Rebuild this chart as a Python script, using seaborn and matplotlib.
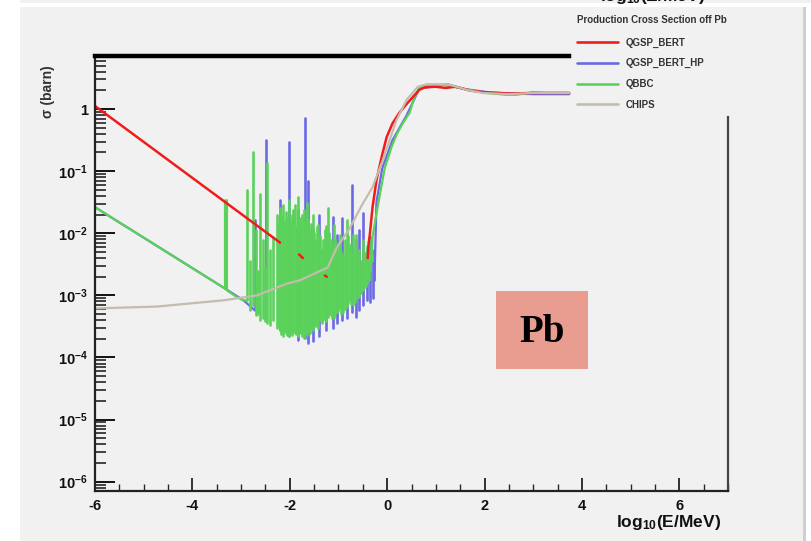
import numpy as np
import pandas as pd
import matplotlib.pyplot as plt
import seaborn as sns
from matplotlib.patches import Rectangle
from matplotlib.lines import Line2D
from matplotlib.ticker import LogLocator, MultipleLocator, FuncFormatter, NullFormatter

# values: x = log10(E/MeV), y = log10(sigma/barn)
# QGSP_BERT (red), split in pieces where it disappears under the others
red_x = [-6.0, -2.2, -1.81, -1.73, -1.28, -1.24, -0.40, -0.38, -0.36, -0.30, -0.22, -0.11, -0.01,
         0.11, 0.25, 0.42, 0.66, 0.77, 1.0, 1.2, 1.4, 1.7, 2.0, 2.5, 3.0, 3.74]
red_logy = [0.05, -2.15, -2.34, -2.40, -2.68, -2.70, -2.40, -2.16, -2.05, -1.58, -1.15, -0.76, -0.45,
            -0.23, -0.06, 0.10, 0.31, 0.35, 0.36, 0.34, 0.36, 0.30, 0.27, 0.25, 0.26, 0.26]
red_seg = [0, 0, 1, 1, 2, 2, 3, 3, 3, 3, 3, 3, 3, 3, 3, 3, 3, 3, 3, 3, 3, 3, 3, 3, 3, 3]

# QBBC (green): smooth low-energy part, spike, then noisy columns (top/bottom), then the rise
green_low_x = [-6.0, -3.37, -3.33, -3.33, -3.29, -3.29, -3.08, -2.95, -2.88]
green_low_logy = [-1.58, -2.87, -2.89, -1.47, -1.47, -2.92, -3.03, -3.08, -3.08]
green_col_x = [-2.88, -2.82, -2.76, -2.70, -2.65, -2.61, -2.55, -2.51, -2.47, -2.41, -2.34, -2.27,
               -2.23, -2.20, -2.17, -2.14, -2.11, -2.08, -2.05, -2.02, -1.99, -1.96, -1.93, -1.90,
               -1.87, -1.84, -1.80, -1.77, -1.74, -1.71, -1.68, -1.65, -1.62, -1.59, -1.56, -1.53,
               -1.50, -1.47, -1.44, -1.41, -1.37, -1.34, -1.31, -1.28, -1.25, -1.22, -1.19, -1.16,
               -1.13, -1.10, -1.07, -1.04, -1.00, -0.97, -0.94, -0.91, -0.87, -0.83, -0.80, -0.77,
               -0.74, -0.71, -0.67, -0.63, -0.60, -0.57, -0.53, -0.50, -0.47, -0.44, -0.41, -0.38,
               -0.35, -0.32]
green_col_top = [-1.31, -2.44, -0.69, -1.95, -2.60, -1.36, -2.11, -2.55, -0.87, -2.27, -2.06, -1.71,
                 -1.85, -1.60, -1.72, -1.55, -1.80, -1.66, -1.75, -1.47, -1.80, -1.71, -1.62, -1.55,
                 -1.90, -1.42, -1.75, -1.87, -1.70, -1.63, -1.82, -1.52, -1.78, -1.95, -1.85, -1.71,
                 -2.00, -2.11, -1.90, -1.87, -2.05, -2.27, -2.10, -1.95, -1.88, -1.60, -2.00, -2.11,
                 -2.20, -1.87, -2.10, -2.27, -2.15, -2.03, -2.30, -2.35, -2.10, -1.79, -2.05, -2.19,
                 -2.30, -2.03, -2.20, -2.03, -2.35, -2.27, -2.45, -2.11, -2.30, -2.35, -2.20, -2.06,
                 -2.40, -2.35]
green_col_bot = [-3.08, -3.24, -3.16, -3.32, -3.30, -3.40, -3.37, -3.42, -3.44, -3.48, -3.40, -3.53,
                 -3.50, -3.56, -3.62, -3.65, -3.58, -3.60, -3.64, -3.66, -3.60, -3.63, -3.58, -3.60,
                 -3.62, -3.66, -3.60, -3.56, -3.66, -3.69, -3.60, -3.63, -3.58, -3.60, -3.52, -3.56,
                 -3.50, -3.50, -3.46, -3.53, -3.40, -3.44, -3.40, -3.37, -3.42, -3.34, -3.30, -3.31,
                 -3.36, -3.37, -3.30, -3.27, -3.25, -3.21, -3.30, -3.27, -3.22, -3.18, -3.12, -3.08,
                 -3.14, -3.16, -3.10, -3.05, -3.00, -3.02, -2.96, -2.92, -2.88, -2.85, -2.80, -2.76,
                 -2.60, -2.44]
green_high_x = [-0.32, -0.30, -0.22, -0.16, -0.05, 0.09, 0.20, 0.32, 0.46, 0.56, 0.66, 0.91, 1.14,
                1.42, 1.63, 2.04, 2.45, 2.65, 2.98, 3.27, 3.74]
green_high_logy = [-2.44, -2.06, -1.68, -1.42, -0.95, -0.61, -0.40, -0.23, -0.06, 0.19, 0.34, 0.39,
                   0.39, 0.35, 0.32, 0.26, 0.23, 0.23, 0.27, 0.26, 0.26]

# QGSP_BERT_HP (blue)
blue_low_x = [-6.0, -3.37, -2.95, -2.72]
blue_low_logy = [-1.58, -2.87, -3.08, -3.24]
blue_col_x = [-2.72, -2.49, -2.20, -2.02, -1.84, -1.69, -1.63, -1.53, -1.39, -1.26, -1.12, -1.02,
              -0.93, -0.83, -0.73, -0.65, -0.57, -0.50, -0.42, -0.36, -0.30, -0.26]
blue_col_top = [-1.79, -0.50, -1.47, -0.53, -1.63, -0.15, -1.15, -1.95, -1.71, -2.11, -1.74, -2.03,
                 -1.76, -2.27, -1.23, -2.11, -1.95, -1.68, -2.27, -2.06, -2.35, -2.27]
blue_col_bot = [-3.24, -3.40, -3.56, -3.66, -3.72, -3.69, -3.76, -3.73, -3.66, -3.56, -3.53, -3.44,
                -3.40, -3.37, -3.27, -3.34, -3.24, -3.16, -3.08, -3.11, -3.05, -2.76]
blue_high_x = [-0.26, -0.22, -0.10, 0.11, 0.40, 0.66, 1.24, 1.60, 2.10, 2.60, 3.00, 3.74]
blue_high_logy = [-2.76, -1.50, -0.95, -0.50, -0.10, 0.33, 0.40, 0.32, 0.27, 0.25, 0.24, 0.24]

# CHIPS (grey)
gray_x = [-6.0, -4.73, -4.05, -3.37, -2.67, -2.06, -1.80, -1.22, -1.04, -0.77, -0.50, -0.30, -0.09,
          0.19, 0.40, 0.63, 0.81, 1.22, 1.38, 1.63, 1.96, 2.51, 2.98, 3.53, 3.74]
gray_logy = [-3.21, -3.18, -3.13, -3.08, -3.00, -2.81, -2.76, -2.55, -2.24, -1.92, -1.52, -1.26, -0.82,
             -0.18, 0.15, 0.36, 0.40, 0.40, 0.37, 0.31, 0.26, 0.24, 0.26, 0.26, 0.26]

labels = ['QGSP_BERT', 'QGSP_BERT_HP', 'QBBC', 'CHIPS']
colors = ['#f01c1c', '#6a6ae4', '#5ad25a', '#c4bcae']


def columns(xs, tops, bots):
    # one vertical stroke per column
    px, py, unit = [], [], []
    for i, (x, t, b) in enumerate(zip(xs, tops, bots)):
        px += [x, x]
        py += [t, b]
        unit += [i, i]
    return pd.DataFrame({'x': px, 'y': np.power(10.0, py), 'col': unit})


def curve(xs, logy):
    return pd.DataFrame({'x': xs, 'y': np.power(10.0, logy)})


red = pd.DataFrame({'x': red_x, 'y': np.power(10.0, red_logy), 'seg': red_seg})

sns.set_style('white')
plt.rcParams['font.family'] = ['Liberation Sans', 'DejaVu Sans']
plt.rcParams['font.weight'] = 'bold'
plt.rcParams['axes.unicode_minus'] = False
plt.rcParams['mathtext.fontset'] = 'custom'
plt.rcParams['mathtext.bf'] = 'Liberation Sans:bold'
plt.rcParams['mathtext.rm'] = 'Liberation Sans:bold'
plt.rcParams['mathtext.default'] = 'bf'

bg = '#f1f1f1'
fig = plt.figure(figsize=(8.11, 5.41), dpi=100, facecolor='white')
W, H = 811, 541
fig.add_artist(Rectangle((20 / W, 0), 783 / W, 1 - 7 / H, transform=fig.transFigure,
                         facecolor=bg, edgecolor='none', zorder=-5))
fig.add_artist(Rectangle((20 / W, 1 - 3 / H), 791 / W, 3 / H, transform=fig.transFigure,
                         facecolor=bg, edgecolor='none', zorder=-5))
fig.add_artist(Rectangle((803 / W, 0), 3 / W, 1 - 7 / H, transform=fig.transFigure,
                         facecolor='#cfcfcf', edgecolor='none', zorder=-5))

ax = fig.add_axes([95 / W, 1 - 491 / H, (728 - 95) / W, (491 - 56) / H])
ax.set_facecolor(bg)

kw = dict(x='x', y='y', sort=False, estimator=None, ax=ax, legend=False)
# blue first, green over it, then red and grey on top
sns.lineplot(data=curve(blue_low_x, blue_low_logy), color=colors[1], lw=1.6, **kw)
sns.lineplot(data=columns(blue_col_x, blue_col_top, blue_col_bot), units='col', color=colors[1],
             lw=1.9, **kw)
sns.lineplot(data=curve(blue_high_x, blue_high_logy), color=colors[1], lw=1.6, **kw)
sns.lineplot(data=curve(green_low_x, green_low_logy), color=colors[2], lw=1.6, **kw)
sns.lineplot(data=columns(green_col_x, green_col_top, green_col_bot), units='col', color=colors[2],
             lw=1.9, **kw)
sns.lineplot(data=curve(green_high_x, green_high_logy), color=colors[2], lw=1.6, **kw)
sns.lineplot(data=red, units='seg', color=colors[0], lw=1.8, **kw)
sns.lineplot(data=curve(gray_x, gray_logy), color=colors[3], lw=1.6, **kw)

ax.set_yscale('log')
ax.set_xlim(-6, 7)
ax.set_ylim(10 ** -6.15, 10 ** 0.855)
ax.set_xlabel('')
ax.set_ylabel('')

ax.xaxis.set_major_locator(MultipleLocator(2))
ax.xaxis.set_minor_locator(MultipleLocator(0.5))
ax.xaxis.set_major_formatter(FuncFormatter(lambda v, p: '%d' % round(v)))
ax.yaxis.set_major_locator(LogLocator(base=10, numticks=20))
ax.yaxis.set_minor_locator(LogLocator(base=10, subs=np.arange(2, 10), numticks=20))
ax.yaxis.set_minor_formatter(NullFormatter())
ax.yaxis.set_major_formatter(FuncFormatter(
    lambda v, p: '1' if abs(np.log10(v)) < 0.01 else r'$10^{%d}$' % round(np.log10(v))))

ax.tick_params(axis='y', which='major', direction='in', length=14.5, width=1.4, left=True,
               right=False, labelsize=10.5, pad=5, colors='#111111')
ax.tick_params(axis='y', which='minor', direction='in', length=8, width=1.2, left=True, right=False)
ax.tick_params(axis='x', which='major', direction='in', length=9.5, width=1.2, bottom=True,
               top=False, labelsize=10.5, pad=6, colors='#111111')
ax.tick_params(axis='x', which='minor', direction='in', length=5, width=1.0, bottom=True, top=False)

for side in ['left', 'bottom', 'right']:
    ax.spines[side].set_linewidth(1.6)
    ax.spines[side].set_color('#222222')
ax.spines['right'].set_color('#444444')
ax.spines['top'].set_linewidth(3.2)
ax.spines['top'].set_color('black')
ax.spines['top'].set_bounds(-6, 3.74)
ax.spines['right'].set_bounds(10 ** -6.15, 10 ** -0.13)

fig.text(721 / W, 1 - 522 / H, r'log$_{10}$(E/MeV)', ha='right', va='center', fontsize=12.5,
         fontweight='bold', color='#111111')
fig.text(705 / W, 1 - 1 / H, r'log$_{10}$(E/MeV)', ha='right', va='baseline', fontsize=12.5,
         fontweight='bold', color='#111111')
fig.text(48 / W, 1 - 92 / H, '\u03c3 (barn)', rotation=90, ha='center', va='center', fontsize=10,
         fontweight='bold', color='#333333')

handles = [Line2D([], [], color=c, lw=1.9) for c in colors]
leg = ax.legend(handles, labels, title='Production Cross Section off Pb', loc='upper left',
                bbox_to_anchor=(577 / W, 1 - 15 / H), bbox_transform=fig.transFigure,
                frameon=False, prop={'size': 7, 'weight': 'bold'}, handlelength=4.2,
                handletextpad=0.75, labelspacing=1.1, alignment='left', borderpad=0,
                borderaxespad=0, title_fontproperties={'size': 7, 'weight': 'bold'})
for t in leg.get_texts():
    t.set_color('#333333')
leg.get_title().set_color('#333333')
leg._legend_box.sep = 9

fig.add_artist(Rectangle((496 / W, 1 - 369 / H), 92 / W, 78 / H, transform=fig.transFigure,
                         facecolor='#e99d91', edgecolor='none', zorder=3))
fig.text(542 / W, 1 - 342 / H, 'Pb', ha='center', va='baseline', fontsize=28, fontweight='bold',
         family=['Liberation Serif', 'DejaVu Serif'], color='black', zorder=4)

fig.savefig('out.png', dpi=100, facecolor='white')
